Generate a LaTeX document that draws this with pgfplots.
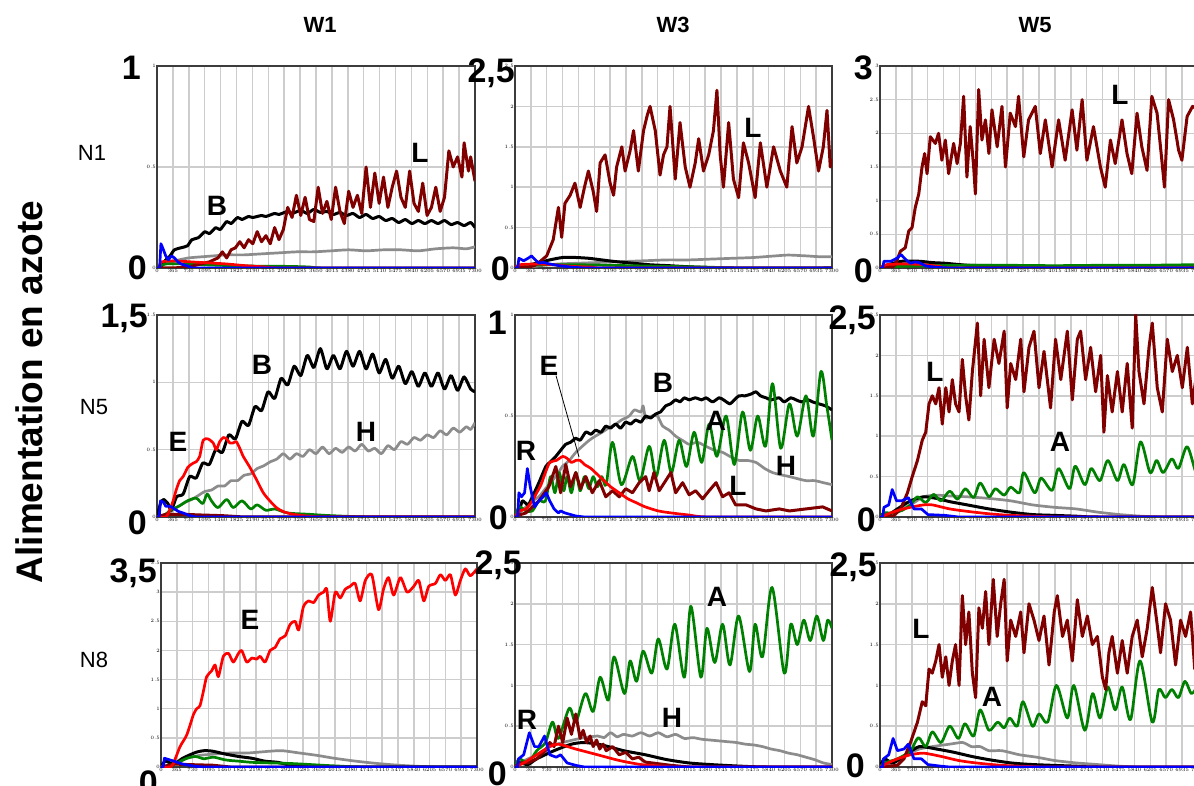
\documentclass[border=0pt]{standalone}
\usepackage{fontspec}
\setmainfont{Liberation Sans}
\usepackage{pgfplots}
\pgfplotsset{compat=1.18}
\definecolor{cL}{RGB}{128,0,0}
\definecolor{cA}{RGB}{0,128,0}
\definecolor{cH}{RGB}{140,140,140}
\definecolor{cE}{RGB}{255,0,0}
\definecolor{cR}{RGB}{0,0,255}
\definecolor{gridc}{RGB}{205,205,205}
\definecolor{axc}{RGB}{60,60,60}
\pgfplotsset{
 panel/.style={scale only axis, anchor=south west, xmin=0, xmax=7300, ymin=0,
   xtick={0,365,730,1095,1460,1825,2190,2555,2920,3285,3650,4015,4380,4745,5110,5475,5840,6205,6570,6935,7300},
   xmajorgrids, ymajorgrids, grid style={draw=gridc, line width=1.5pt},
   axis line style={draw=axc, line width=1.8pt}, major tick length=0pt,
   tick label style={font=\fontsize{5}{5}\selectfont, inner sep=1pt},
   /pgf/number format/1000 sep={}, /pgf/number format/fixed,
   every axis plot/.append style={line join=round, mark=none}},
 sL/.style={color=cL, line width=3pt},
 sB/.style={color=black, line width=3pt, smooth, tension=0.4},
 sH/.style={color=cH, line width=2.7pt, smooth, tension=0.4},
 sA/.style={color=cA, line width=2.7pt, smooth, tension=0.5},
 sE/.style={color=cE, line width=2.7pt, smooth, tension=0.4},
 sR/.style={color=cR, line width=2.7pt},
}
\tikzset{bn/.style={anchor=base east, inner sep=0pt, font=\fontsize{34}{34}\selectfont\bfseries},
 sl/.style={anchor=center, inner sep=0pt, font=\fontsize{28}{28}\selectfont\bfseries}}
\begin{document}
\begin{tikzpicture}
\useasboundingbox (0,0) rectangle (1194pt,785pt);
\clip (0,0) rectangle (1194pt,785pt);
\fill[white] (0,0) rectangle (1194pt,785pt);

% ---------- W1 N1 ----------
\begin{axis}[panel, at={(157pt,517pt)}, width=318pt, height=202pt, ymax=1, ytick={0,0.5,1}]
\addplot[sH] coordinates {(0,0)(150,0.02)(300,0.03)(500,0.04)(730,0.05)(1000,0.055)(1300,0.06)(1600,0.065)(2000,0.065)(2400,0.07)(2800,0.075)(3200,0.08)(3600,0.08)(4000,0.085)(4400,0.09)(4800,0.085)(5200,0.09)(5600,0.09)(6000,0.085)(6400,0.095)(6800,0.1)(7100,0.095)(7300,0.105)};
\addplot[sB] coordinates {(0,0)(100,0.01)(200,0.04)(300,0.06)(400,0.09)(550,0.1)(700,0.11)(800,0.14)(950,0.15)(1100,0.18)(1200,0.17)(1350,0.2)(1450,0.19)(1600,0.23)(1700,0.22)(1850,0.25)(1950,0.24)(2100,0.255)(2200,0.25)(2400,0.26)(2500,0.255)(2700,0.27)(2800,0.265)(3000,0.28)(3100,0.27)(3300,0.285)(3450,0.27)(3600,0.29)(3750,0.275)(3900,0.28)(4050,0.265)(4200,0.275)(4350,0.26)(4500,0.27)(4650,0.25)(4800,0.265)(4950,0.245)(5100,0.255)(5250,0.235)(5400,0.245)(5550,0.225)(5700,0.24)(5850,0.22)(6000,0.235)(6150,0.22)(6300,0.235)(6450,0.22)(6600,0.235)(6750,0.215)(6900,0.225)(7050,0.21)(7200,0.225)(7300,0.2)};
\addplot[sA] coordinates {(0,0)(200,0.02)(600,0.02)(1200,0.015)(2000,0.01)(3000,0.008)(3500,0.005)(4000,0)(7300,0)};
\addplot[sL] coordinates {(0,0)(365,0)(730,0.005)(1000,0.02)(1200,0.03)(1400,0.05)(1500,0.08)(1600,0.05)(1700,0.09)(1800,0.1)(1900,0.13)(2000,0.1)(2100,0.14)(2200,0.12)(2300,0.18)(2400,0.13)(2500,0.16)(2600,0.12)(2700,0.2)(2800,0.14)(2900,0.19)(3000,0.3)(3100,0.25)(3200,0.36)(3300,0.26)(3400,0.35)(3500,0.24)(3600,0.23)(3700,0.4)(3800,0.27)(3900,0.33)(4000,0.24)(4100,0.4)(4200,0.28)(4300,0.22)(4400,0.38)(4500,0.3)(4600,0.36)(4700,0.27)(4800,0.5)(4900,0.3)(5000,0.47)(5100,0.32)(5200,0.45)(5300,0.3)(5400,0.4)(5500,0.48)(5600,0.35)(5700,0.3)(5800,0.48)(5900,0.32)(6000,0.28)(6100,0.42)(6200,0.26)(6300,0.3)(6400,0.4)(6500,0.28)(6600,0.35)(6700,0.58)(6800,0.5)(6900,0.55)(7000,0.45)(7050,0.62)(7150,0.48)(7200,0.55)(7300,0.43)};
\addplot[sE] coordinates {(0,0)(50,0)(100,0.03)(400,0.035)(800,0.03)(1200,0.025)(1600,0.02)(2000,0.012)(2500,0.005)(3000,0)(7300,0)};
\addplot[sR] coordinates {(0,0)(60,0)(90,0.12)(130,0.1)(200,0.06)(260,0.04)(330,0.06)(400,0.05)(480,0.03)(550,0.02)(700,0.01)(800,0)(7300,0)};
\end{axis}

% ---------- W3 N1 ----------
\begin{axis}[panel, at={(515pt,517pt)}, width=317pt, height=202pt, ymax=2.5, ytick={0,0.5,1,1.5,2,2.5}]
\addplot[sH] coordinates {(0,0)(300,0.01)(600,0.03)(1000,0.05)(1500,0.06)(2000,0.07)(2500,0.08)(3000,0.09)(3500,0.1)(4000,0.1)(4500,0.11)(5000,0.12)(5500,0.13)(6000,0.15)(6300,0.16)(6700,0.15)(7000,0.14)(7300,0.14)};
\addplot[sB] coordinates {(0,0)(200,0.02)(500,0.06)(800,0.1)(1100,0.13)(1400,0.13)(1700,0.12)(2000,0.1)(2300,0.08)(2700,0.06)(3100,0.04)(3500,0.03)(4000,0.015)(4500,0.005)(5000,0)(7300,0)};
\addplot[sA] coordinates {(0,0)(300,0.03)(800,0.04)(1500,0.04)(2500,0.03)(3500,0.02)(4500,0.01)(5000,0)(7300,0)};
\addplot[sL] coordinates {(0,0)(300,0.01)(450,0.03)(576,0.08)(730,0.15)(880,0.35)(1000,0.75)(1075,0.38)(1150,0.8)(1270,0.9)(1380,1.05)(1500,0.75)(1600,1.0)(1690,1.2)(1800,0.95)(1880,0.7)(1960,1.3)(2075,1.4)(2190,1.05)(2270,0.9)(2340,1.25)(2460,1.5)(2535,1.2)(2650,1.45)(2730,1.7)(2840,1.2)(2960,1.7)(3050,1.9)(3110,2.0)(3230,1.7)(3340,1.15)(3420,1.4)(3500,1.5)(3570,2.0)(3690,1.1)(3800,1.8)(3920,1.25)(4030,1.0)(4150,1.3)(4230,1.6)(4340,1.2)(4460,1.4)(4570,1.7)(4650,2.2)(4725,1.4)(4800,1.0)(4920,1.8)(5030,1.1)(5150,0.87)(5260,1.55)(5380,1.3)(5450,1.1)(5530,0.87)(5650,1.55)(5800,1.0)(5955,1.5)(6110,1.2)(6260,1.0)(6380,1.75)(6490,1.3)(6610,1.5)(6760,2.0)(6880,1.6)(6990,1.2)(7100,1.5)(7185,1.95)(7260,1.25)(7300,1.35)};
\addplot[sE] coordinates {(0,0)(100,0.04)(500,0.05)(900,0.04)(1300,0.02)(1800,0.01)(2200,0)(7300,0)};
\addplot[sR] coordinates {(0,0)(60,0)(90,0.12)(200,0.09)(300,0.12)(380,0.15)(450,0.11)(550,0.06)(650,0.07)(800,0.05)(1000,0.03)(1300,0.01)(1600,0)(7300,0)};
\end{axis}

% ---------- W5 N1 ----------
\begin{axis}[panel, at={(880pt,517pt)}, width=318pt, height=202pt, ymax=3, ytick={0,0.5,1,1.5,2,2.5,3}]
\addplot[sH] coordinates {(0,0)(300,0.02)(800,0.05)(1500,0.05)(2500,0.04)(3500,0.03)(5000,0.02)(7300,0.02)};
\addplot[sB] coordinates {(0,0)(200,0.05)(500,0.1)(900,0.1)(1200,0.08)(1500,0.07)(2000,0.04)(2500,0.02)(3000,0.01)(3500,0)(7300,0)};
\addplot[sA] coordinates {(0,0)(300,0.02)(1000,0.03)(2000,0.04)(3000,0.04)(4000,0.035)(5000,0.04)(6000,0.04)(7300,0.05)};
\addplot[sL] coordinates {(0,0)(300,0.02)(350,0.05)(470,0.25)(580,0.3)(660,0.55)(735,0.6)(810,0.9)(890,1.1)(965,1.5)(1025,1.7)(1080,1.4)(1155,1.95)(1270,1.85)(1345,2.0)(1420,1.6)(1500,1.9)(1575,1.4)(1690,1.85)(1770,1.55)(1845,1.85)(1920,2.55)(1995,1.35)(2070,2.1)(2150,1.5)(2190,1.1)(2265,2.65)(2340,1.9)(2420,2.2)(2500,1.7)(2570,2.35)(2690,1.8)(2800,2.4)(2880,1.5)(2990,2.3)(3110,2.1)(3180,2.55)(3300,1.65)(3410,2.2)(3565,2.4)(3680,1.7)(3795,2.2)(3950,1.5)(4100,2.2)(4250,1.6)(4410,2.35)(4520,1.75)(4640,2.5)(4750,1.6)(4900,2.1)(5060,1.5)(5170,1.2)(5290,1.9)(5400,1.55)(5555,2.2)(5670,1.7)(5780,1.4)(5900,2.3)(6010,1.8)(6130,1.45)(6240,2.55)(6360,2.3)(6470,1.6)(6530,1.2)(6625,2.5)(6740,2.2)(6855,1.75)(6930,1.6)(7050,2.25)(7175,2.4)(7300,2.35)};
\addplot[sE] coordinates {(0,0)(150,0.05)(600,0.06)(1000,0.05)(1400,0.02)(1800,0)(7300,0)};
\addplot[sR] coordinates {(0,0)(60,0)(90,0.1)(250,0.1)(400,0.15)(480,0.2)(600,0.12)(700,0.07)(800,0.09)(900,0.08)(1050,0.03)(1300,0.01)(1600,0)(7300,0)};
\end{axis}

% ---------- W1 N5 ----------
\begin{axis}[panel, at={(157pt,268pt)}, width=318pt, height=202pt, ymax=1.5, ytick={0,0.5,1,1.5}]
\addplot[sH] coordinates {(0,0)(200,0.01)(350,0.05)(500,0.08)(650,0.11)(800,0.13)(950,0.16)(1100,0.19)(1250,0.2)(1400,0.23)(1550,0.23)(1700,0.27)(1850,0.27)(2000,0.31)(2150,0.32)(2300,0.36)(2450,0.38)(2600,0.41)(2750,0.43)(2900,0.47)(3050,0.43)(3200,0.47)(3350,0.45)(3500,0.5)(3650,0.47)(3800,0.52)(3950,0.47)(4100,0.51)(4250,0.48)(4400,0.52)(4550,0.49)(4700,0.54)(4850,0.49)(5000,0.51)(5150,0.47)(5300,0.53)(5450,0.5)(5600,0.56)(5750,0.54)(5900,0.59)(6050,0.57)(6200,0.61)(6350,0.59)(6500,0.64)(6650,0.61)(6800,0.66)(6950,0.63)(7100,0.67)(7200,0.65)(7300,0.7)};
\addplot[sB] coordinates {(0,0)(80,0.1)(150,0.13)(250,0.1)(330,0.05)(450,0.15)(600,0.17)(750,0.3)(900,0.29)(1050,0.4)(1200,0.39)(1350,0.5)(1500,0.48)(1650,0.61)(1800,0.58)(1950,0.71)(2100,0.68)(2250,0.82)(2400,0.79)(2550,0.93)(2700,0.88)(2850,1.03)(3000,0.98)(3150,1.12)(3300,1.05)(3450,1.2)(3600,1.11)(3750,1.25)(3900,1.1)(4050,1.2)(4200,1.1)(4350,1.23)(4500,1.12)(4650,1.23)(4800,1.1)(4950,1.21)(5100,1.07)(5250,1.17)(5400,1.03)(5550,1.12)(5700,0.99)(5850,1.08)(6000,0.97)(6150,1.07)(6300,0.97)(6450,1.07)(6600,0.95)(6750,1.05)(6900,0.94)(7050,1.04)(7200,0.95)(7300,0.93)};
\addplot[sA] coordinates {(0,0)(200,0.02)(300,0.05)(500,0.08)(700,0.12)(900,0.14)(1050,0.1)(1150,0.17)(1250,0.12)(1400,0.07)(1600,0.13)(1750,0.07)(1950,0.12)(2150,0.06)(2300,0.09)(2500,0.05)(2700,0.06)(3000,0.03)(3500,0.02)(4000,0.01)(5000,0)(7300,0)};
\addplot[sL] coordinates {(0,0)(200,0.02)(600,0.02)(1000,0.015)(1500,0.01)(2000,0)(7300,0)};
\addplot[sE] coordinates {(0,0)(200,0)(290,0.05)(370,0.12)(440,0.2)(520,0.27)(600,0.3)(710,0.37)(830,0.4)(900,0.41)(980,0.45)(1060,0.57)(1170,0.58)(1290,0.55)(1360,0.5)(1440,0.56)(1520,0.59)(1600,0.58)(1670,0.55)(1750,0.55)(1820,0.56)(1900,0.51)(1980,0.45)(2130,0.37)(2280,0.28)(2440,0.18)(2590,0.12)(2740,0.07)(2900,0.04)(3125,0.02)(3510,0.005)(4000,0)(7300,0)};
\addplot[sR] coordinates {(0,0)(50,0)(80,0.12)(150,0.11)(200,0.08)(300,0.08)(400,0.06)(500,0.04)(600,0.03)(750,0.01)(900,0)(7300,0)};
\end{axis}

% ---------- W3 N5 ----------
\begin{axis}[panel, at={(515pt,268pt)}, width=317pt, height=202pt, ymax=1, ytick={0,0.5,1}]
\addplot[sH] coordinates {(0,0)(150,0.03)(250,0.05)(400,0.08)(550,0.1)(700,0.14)(860,0.18)(1000,0.22)(1090,0.25)(1250,0.28)(1400,0.32)(1550,0.35)(1710,0.38)(1850,0.4)(2010,0.42)(2150,0.44)(2320,0.46)(2450,0.48)(2630,0.5)(2750,0.53)(2900,0.52)(2950,0.55)(3010,0.49)(3150,0.5)(3280,0.5)(3400,0.45)(3550,0.43)(3700,0.4)(3850,0.38)(4010,0.36)(4200,0.37)(4395,0.35)(4600,0.33)(4780,0.32)(4950,0.3)(5160,0.28)(5350,0.28)(5550,0.27)(5750,0.24)(5930,0.22)(6100,0.21)(6320,0.2)(6500,0.19)(6700,0.18)(6900,0.18)(7100,0.17)(7300,0.16)};
\addplot[sB] coordinates {(0,0)(100,0.03)(170,0.08)(300,0.06)(400,0.1)(550,0.17)(710,0.25)(800,0.27)(940,0.3)(1050,0.33)(1170,0.36)(1280,0.37)(1400,0.39)(1500,0.38)(1630,0.42)(1750,0.41)(1860,0.43)(1980,0.42)(2090,0.45)(2200,0.44)(2320,0.46)(2430,0.44)(2550,0.47)(2660,0.46)(2780,0.48)(2900,0.47)(3010,0.5)(3120,0.49)(3240,0.51)(3350,0.52)(3470,0.55)(3580,0.56)(3700,0.58)(3800,0.57)(3900,0.59)(4010,0.58)(4150,0.59)(4300,0.58)(4400,0.59)(4550,0.57)(4700,0.59)(4800,0.58)(4950,0.56)(5050,0.58)(5160,0.6)(5300,0.6)(5450,0.61)(5550,0.62)(5650,0.6)(5780,0.59)(5900,0.58)(6080,0.59)(6200,0.57)(6350,0.59)(6470,0.58)(6600,0.57)(6750,0.58)(6850,0.57)(7000,0.56)(7150,0.55)(7300,0.53)};
\addplot[sA] coordinates {(0,0)(100,0.05)(250,0.03)(400,0.03)(550,0.08)(700,0.08)(820,0.2)(920,0.12)(1015,0.22)(1120,0.13)(1200,0.2)(1300,0.12)(1400,0.22)(1500,0.13)(1600,0.2)(1700,0.14)(1800,0.2)(1900,0.15)(2000,0.2)(2100,0.16)(2245,0.37)(2450,0.16)(2705,0.3)(2880,0.18)(3090,0.35)(3250,0.2)(3435,0.38)(3600,0.22)(3780,0.38)(3950,0.25)(4125,0.42)(4300,0.27)(4470,0.46)(4650,0.3)(4860,0.5)(5050,0.26)(5240,0.52)(5420,0.33)(5590,0.5)(5770,0.35)(5930,0.66)(6120,0.34)(6320,0.56)(6500,0.4)(6700,0.6)(6870,0.4)(7045,0.72)(7180,0.55)(7300,0.38)};
\addplot[sL] coordinates {(0,0)(100,0.01)(250,0.02)(550,0.08)(780,0.15)(940,0.25)(1050,0.12)(1170,0.26)(1280,0.15)(1400,0.22)(1510,0.14)(1630,0.2)(1780,0.12)(1940,0.18)(2090,0.1)(2245,0.13)(2400,0.1)(2550,0.14)(2705,0.12)(2860,0.17)(3010,0.2)(3090,0.13)(3200,0.22)(3320,0.13)(3470,0.18)(3590,0.22)(3700,0.12)(3860,0.17)(4010,0.11)(4160,0.13)(4320,0.09)(4470,0.13)(4630,0.17)(4780,0.1)(4930,0.12)(5080,0.06)(5320,0.06)(5550,0.04)(5780,0.03)(6085,0.04)(6320,0.03)(6700,0.04)(7085,0.05)(7300,0.03)};
\addplot[sE] coordinates {(0,0)(100,0.03)(250,0.04)(400,0.08)(500,0.12)(600,0.16)(700,0.22)(800,0.27)(950,0.28)(1100,0.3)(1200,0.29)(1300,0.27)(1400,0.28)(1500,0.28)(1600,0.26)(1750,0.24)(1900,0.21)(2050,0.18)(2200,0.15)(2400,0.12)(2600,0.09)(2800,0.07)(3000,0.05)(3300,0.03)(3600,0.02)(4000,0.01)(4500,0)(7300,0)};
\addplot[sR] coordinates {(0,0)(60,0)(90,0.12)(150,0.1)(220,0.12)(285,0.24)(350,0.15)(450,0.05)(550,0.08)(650,0.1)(720,0.12)(800,0.08)(900,0.04)(1000,0.02)(1050,0.03)(1150,0.02)(1400,0.005)(1600,0)(7300,0)};
\addplot[black, line width=0.8pt] coordinates {(944,0.70)(1474,0.297)};
\end{axis}

% ---------- W5 N5 ----------
\begin{axis}[panel, at={(880pt,268pt)}, width=318pt, height=202pt, ymax=2.5, ytick={0,0.5,1,1.5,2,2.5}]
\addplot[sH] coordinates {(0,0)(300,0.05)(500,0.1)(700,0.15)(1000,0.25)(1300,0.27)(1600,0.26)(2000,0.25)(2500,0.23)(3000,0.2)(3500,0.15)(4000,0.12)(4500,0.1)(5000,0.06)(5500,0.03)(6000,0.01)(6500,0)(7300,0)};
\addplot[sB] coordinates {(0,0)(100,0.05)(200,0.03)(400,0.1)(700,0.2)(1000,0.25)(1300,0.23)(1600,0.19)(2000,0.15)(2500,0.1)(3000,0.06)(3500,0.03)(4000,0.02)(4500,0.01)(5000,0)(7300,0)};
\addplot[sA] coordinates {(0,0)(100,0.05)(300,0.05)(500,0.08)(700,0.15)(860,0.25)(1050,0.18)(1230,0.28)(1400,0.2)(1600,0.32)(1780,0.22)(1960,0.35)(2150,0.24)(2300,0.42)(2500,0.25)(2650,0.35)(2850,0.27)(3000,0.37)(3200,0.3)(3300,0.55)(3550,0.3)(3700,0.48)(3950,0.33)(4100,0.6)(4350,0.35)(4480,0.63)(4700,0.4)(4850,0.6)(5050,0.45)(5230,0.7)(5450,0.45)(5600,0.65)(5800,0.4)(5980,0.93)(6200,0.55)(6350,0.7)(6500,0.55)(6700,0.72)(6850,0.6)(7050,0.87)(7250,0.55)(7300,0.6)};
\addplot[sL] coordinates {(0,0)(300,0.01)(475,0.1)(630,0.3)(740,0.5)(860,0.7)(970,0.95)(1050,1.05)(1125,1.4)(1200,1.5)(1280,1.4)(1355,1.6)(1430,1.15)(1510,1.6)(1585,1.3)(1660,1.7)(1735,1.4)(1815,1.3)(1890,1.95)(1965,1.5)(2040,1.2)(2120,1.8)(2235,2.4)(2310,1.5)(2390,2.2)(2500,1.6)(2620,2.2)(2730,1.9)(2850,2.3)(2920,1.35)(3000,1.9)(3115,1.7)(3230,2.2)(3305,1.55)(3420,2.1)(3535,2.3)(3650,1.6)(3765,2.05)(3915,1.35)(4030,2.2)(4150,1.7)(4300,2.3)(4415,1.45)(4530,2.2)(4605,2.3)(4720,1.7)(4835,2.1)(4950,1.55)(5065,2.0)(5140,1.05)(5220,1.75)(5330,1.3)(5450,1.8)(5560,1.3)(5675,1.9)(5790,1.1)(5870,2.5)(5945,1.8)(6060,1.4)(6175,2.1)(6250,2.4)(6365,1.6)(6480,1.3)(6595,2.2)(6710,1.8)(6825,2.0)(6940,1.6)(7055,2.1)(7170,1.4)(7300,1.9)};
\addplot[sE] coordinates {(0,0)(100,0.02)(400,0.08)(700,0.12)(1000,0.15)(1200,0.15)(1600,0.1)(2000,0.07)(2500,0.04)(3000,0.02)(3800,0.005)(4300,0)(7300,0)};
\addplot[sR] coordinates {(0,0)(60,0)(90,0.12)(200,0.15)(280,0.34)(380,0.2)(500,0.2)(650,0.24)(780,0.1)(950,0.1)(1100,0.03)(1500,0.02)(1800,0)(7300,0)};
\end{axis}

% ---------- W1 N8 ----------
\begin{axis}[panel, at={(161pt,18pt)}, width=316pt, height=204pt, ymax=3.5, ytick={0,0.5,1,1.5,2,2.5,3,3.5}]
\addplot[sH] coordinates {(0,0)(300,0.05)(600,0.15)(900,0.2)(1200,0.22)(1600,0.24)(2000,0.24)(2500,0.27)(2800,0.28)(3200,0.24)(3600,0.2)(4000,0.15)(4500,0.1)(5000,0.06)(5500,0.03)(6000,0.01)(6500,0)(7300,0)};
\addplot[sB] coordinates {(0,0)(100,0.1)(300,0.05)(500,0.15)(800,0.25)(1000,0.28)(1200,0.27)(1500,0.22)(1800,0.18)(2100,0.15)(2400,0.1)(2700,0.08)(3000,0.03)(3500,0.01)(4000,0)(7300,0)};
\addplot[sA] coordinates {(0,0)(300,0.05)(600,0.15)(800,0.18)(1000,0.14)(1200,0.17)(1500,0.12)(1800,0.1)(2100,0.08)(2500,0.07)(3000,0.06)(3500,0.04)(4000,0.02)(4800,0)(7300,0)};
\addplot[sL] coordinates {(0,0)(300,0.05)(700,0.04)(1200,0.03)(1600,0)(7300,0)};
\addplot[sE] coordinates {(0,0)(200,0)(280,0.05)(440,0.35)(595,0.55)(750,0.9)(825,1.0)(900,1.05)(980,1.3)(1055,1.55)(1170,1.65)(1250,1.75)(1325,1.55)(1440,1.9)(1560,1.95)(1670,1.8)(1790,1.95)(1865,2.0)(1980,1.8)(2100,1.87)(2210,1.85)(2290,1.9)(2405,1.8)(2520,2.0)(2635,2.05)(2750,2.2)(2870,2.25)(2985,2.45)(3100,2.5)(3180,2.35)(3290,2.75)(3410,2.85)(3525,2.82)(3640,2.95)(3755,3.0)(3830,3.05)(3910,2.5)(4025,3.0)(4140,2.9)(4255,3.05)(4370,3.1)(4485,3.15)(4600,2.85)(4720,3.2)(4870,3.3)(5025,2.7)(5140,3.05)(5255,3.25)(5375,2.95)(5530,3.25)(5685,3.0)(5840,3.1)(5955,3.2)(6070,2.85)(6185,3.1)(6340,3.15)(6455,3.3)(6570,3.2)(6685,3.3)(6800,2.95)(6915,3.2)(7030,3.4)(7145,3.28)(7300,3.4)};
\addplot[sR] coordinates {(0,0)(50,0)(80,0.15)(300,0.1)(500,0.05)(800,0.01)(1000,0)(7300,0)};
\end{axis}

% ---------- W3 N8 ----------
\begin{axis}[panel, at={(515pt,18pt)}, width=317pt, height=204pt, ymax=2.5, ytick={0,0.5,1,1.5,2,2.5}]
\addplot[sH] coordinates {(0,0)(100,0.05)(500,0.15)(800,0.25)(1100,0.3)(1500,0.35)(1900,0.38)(2050,0.36)(2200,0.42)(2350,0.37)(2500,0.4)(2700,0.38)(2900,0.42)(3100,0.38)(3300,0.42)(3500,0.37)(3700,0.4)(3900,0.35)(4100,0.36)(4300,0.34)(4500,0.33)(4700,0.32)(4900,0.31)(5100,0.3)(5300,0.28)(5500,0.27)(5700,0.25)(5900,0.22)(6100,0.2)(6300,0.17)(6500,0.15)(6700,0.12)(6900,0.09)(7100,0.05)(7300,0.03)};
\addplot[sB] coordinates {(0,0)(100,0.05)(300,0.03)(500,0.1)(900,0.2)(1300,0.28)(1600,0.3)(2000,0.27)(2500,0.2)(3000,0.15)(3500,0.09)(4000,0.05)(4500,0.03)(5200,0.01)(5800,0)(7300,0)};
\addplot[sA] coordinates {(0,0)(100,0.1)(300,0.05)(500,0.2)(700,0.3)(864,0.55)(1000,0.35)(1250,0.72)(1400,0.55)(1620,0.9)(1800,0.68)(1960,1.1)(2150,0.82)(2280,1.35)(2520,0.9)(2650,1.3)(2800,1.05)(2950,1.42)(3150,1.15)(3300,1.57)(3500,1.2)(3680,1.75)(3900,1.1)(4050,1.97)(4280,1.1)(4420,1.7)(4600,1.28)(4780,1.75)(4950,1.25)(5150,1.85)(5400,1.17)(5530,1.75)(5700,1.35)(5920,2.2)(6200,1.15)(6350,1.75)(6500,1.5)(6650,1.8)(6800,1.55)(6950,1.85)(7100,1.55)(7200,1.8)(7300,1.7)};
\addplot[sL] coordinates {(0,0)(100,0.05)(300,0.05)(500,0.1)(700,0.2)(800,0.3)(900,0.25)(1000,0.5)(1100,0.3)(1200,0.6)(1300,0.4)(1400,0.65)(1500,0.35)(1570,0.45)(1650,0.3)(1730,0.38)(1800,0.25)(1880,0.33)(1950,0.22)(2030,0.28)(2100,0.2)(2250,0.25)(2400,0.15)(2550,0.18)(2700,0.1)(2850,0.12)(3000,0.06)(3300,0.04)(3600,0.02)(4000,0)(7300,0)};
\addplot[sE] coordinates {(0,0)(200,0.05)(500,0.15)(800,0.25)(1000,0.28)(1400,0.22)(1900,0.15)(2400,0.08)(2900,0.03)(3400,0.01)(3800,0)(7300,0)};
\addplot[sR] coordinates {(0,0)(60,0)(80,0.1)(200,0.15)(330,0.42)(450,0.25)(550,0.25)(680,0.38)(800,0.15)(950,0.12)(1050,0.15)(1200,0.05)(1400,0.02)(1600,0)(7300,0)};
\end{axis}

% ---------- W5 N8 ----------
\begin{axis}[panel, at={(880pt,18pt)}, width=318pt, height=204pt, ymax=2.5, ytick={0,0.5,1,1.5,2,2.5}]
\addplot[sH] coordinates {(0,0)(300,0.05)(600,0.15)(900,0.22)(1200,0.25)(1600,0.28)(1900,0.3)(2100,0.25)(2300,0.25)(2500,0.2)(2800,0.2)(3200,0.15)(3600,0.12)(4000,0.08)(4500,0.05)(5000,0.03)(5500,0.01)(6000,0)(7300,0)};
\addplot[sB] coordinates {(0,0)(100,0.1)(300,0.05)(600,0.15)(900,0.25)(1300,0.22)(1700,0.18)(2100,0.13)(2500,0.09)(3000,0.05)(3500,0.03)(4500,0.01)(5000,0)(7300,0)};
\addplot[sA] coordinates {(0,0)(100,0.05)(400,0.1)(700,0.2)(880,0.36)(1050,0.25)(1200,0.43)(1400,0.3)(1600,0.5)(1800,0.35)(1950,0.53)(2150,0.38)(2300,0.7)(2500,0.45)(2700,0.55)(2850,0.48)(2980,0.6)(3150,0.5)(3280,0.8)(3500,0.5)(3650,0.65)(3850,0.55)(4050,1.0)(4300,0.6)(4450,1.0)(4700,0.45)(4880,0.9)(5050,0.6)(5230,0.98)(5400,0.7)(5560,0.98)(5750,0.58)(5970,1.3)(6250,0.55)(6400,0.95)(6550,0.85)(6700,0.95)(6850,0.85)(7000,1.05)(7150,0.9)(7300,1.0)};
\addplot[sL] coordinates {(0,0)(400,0.02)(550,0.1)(700,0.3)(860,0.55)(970,0.8)(1050,0.75)(1125,1.2)(1200,1.15)(1280,1.3)(1355,1.5)(1430,1.1)(1510,1.35)(1585,1.0)(1660,1.3)(1735,1.5)(1815,1.0)(1890,2.1)(1965,1.5)(2040,1.9)(2120,1.15)(2195,0.85)(2270,1.95)(2350,1.7)(2425,2.15)(2500,1.5)(2600,2.3)(2690,1.6)(2770,2.0)(2850,2.3)(2920,1.3)(3000,1.8)(3115,1.6)(3230,1.9)(3305,1.4)(3420,2.0)(3535,1.8)(3650,1.55)(3765,1.85)(3880,1.25)(4000,1.9)(4070,2.1)(4190,1.6)(4300,1.8)(4415,1.3)(4530,2.05)(4645,1.6)(4760,1.85)(4875,1.5)(4990,1.6)(5105,1.1)(5180,0.95)(5255,1.4)(5330,1.6)(5450,1.15)(5560,1.55)(5675,1.15)(5790,1.6)(5905,1.8)(6020,1.35)(6135,1.7)(6250,2.2)(6350,1.8)(6440,1.4)(6555,2.0)(6670,1.8)(6785,1.25)(6900,1.8)(7015,1.6)(7130,1.9)(7225,1.2)(7300,1.5)};
\addplot[sE] coordinates {(0,0)(100,0.03)(400,0.1)(700,0.15)(1000,0.17)(1400,0.13)(1800,0.08)(2200,0.05)(2800,0.02)(3500,0.005)(4000,0)(7300,0)};
\addplot[sR] coordinates {(0,0)(60,0)(80,0.1)(200,0.15)(300,0.35)(400,0.2)(550,0.22)(650,0.28)(780,0.1)(950,0.1)(1100,0.03)(1400,0.01)(1600,0)(7300,0)};
\end{axis}

% ---------- big scale numbers ----------
\node[bn] at (141pt,705pt) {1};
\node[bn] at (147pt,505pt) {0};
\node[bn] at (515pt,702pt) {2,5};
\node[bn] at (510pt,504pt) {0};
\node[bn] at (873pt,705pt) {3};
\node[bn] at (873pt,502pt) {0};
\node[bn] at (148pt,457pt) {1,5};
\node[bn] at (147pt,250pt) {0};
\node[bn] at (507pt,450pt) {1};
\node[bn] at (508pt,255pt) {0};
\node[bn] at (876pt,455pt) {2,5};
\node[bn] at (876pt,253pt) {0};
\node[bn] at (157pt,202pt) {3,5};
\node[bn] at (158pt,-9pt) {0};
\node[bn] at (522pt,211pt) {2,5};
\node[bn] at (507pt,0pt) {0};
\node[bn] at (877pt,208pt) {2,5};
\node[bn] at (865pt,8pt) {0};

% ---------- series letters ----------
\node[sl] at (217pt,579pt) {B};
\node[sl] at (420pt,632pt) {L};
\node[sl] at (753pt,657pt) {L};
\node[sl] at (1120pt,690pt) {L};
\node[sl] at (262pt,420pt) {B};
\node[sl] at (178pt,343pt) {E};
\node[sl] at (366pt,353pt) {H};
\node[sl] at (549pt,419pt) {E};
\node[sl] at (663pt,402pt) {B};
\node[sl] at (716pt,364pt) {A};
\node[sl] at (786pt,319pt) {H};
\node[sl] at (738pt,299pt) {L};
\node[sl] at (526pt,334pt) {R};
\node[sl] at (935pt,413pt) {L};
\node[sl] at (1060pt,343pt) {A};
\node[sl] at (250pt,165pt) {E};
\node[sl] at (717pt,188pt) {A};
\node[sl] at (672pt,67pt) {H};
\node[sl] at (527pt,65pt) {R};
\node[sl] at (921pt,156pt) {L};
\node[sl] at (992pt,88pt) {A};

% ---------- titles ----------
\node[font=\fontsize{22}{22}\selectfont\bfseries] at (320pt,760pt) {W1};
\node[font=\fontsize{22}{22}\selectfont\bfseries] at (673pt,760pt) {W3};
\node[font=\fontsize{22}{22}\selectfont\bfseries] at (1035pt,760pt) {W5};
\node[font=\fontsize{22}{22}\selectfont] at (92pt,632pt) {N1};
\node[font=\fontsize{22}{22}\selectfont] at (94pt,378pt) {N5};
\node[font=\fontsize{22}{22}\selectfont] at (94pt,125pt) {N8};
\node[rotate=90, font=\fontsize{37}{37}\selectfont\bfseries] at (29pt,393pt) {Alimentation en azote};
\end{tikzpicture}
\end{document}
